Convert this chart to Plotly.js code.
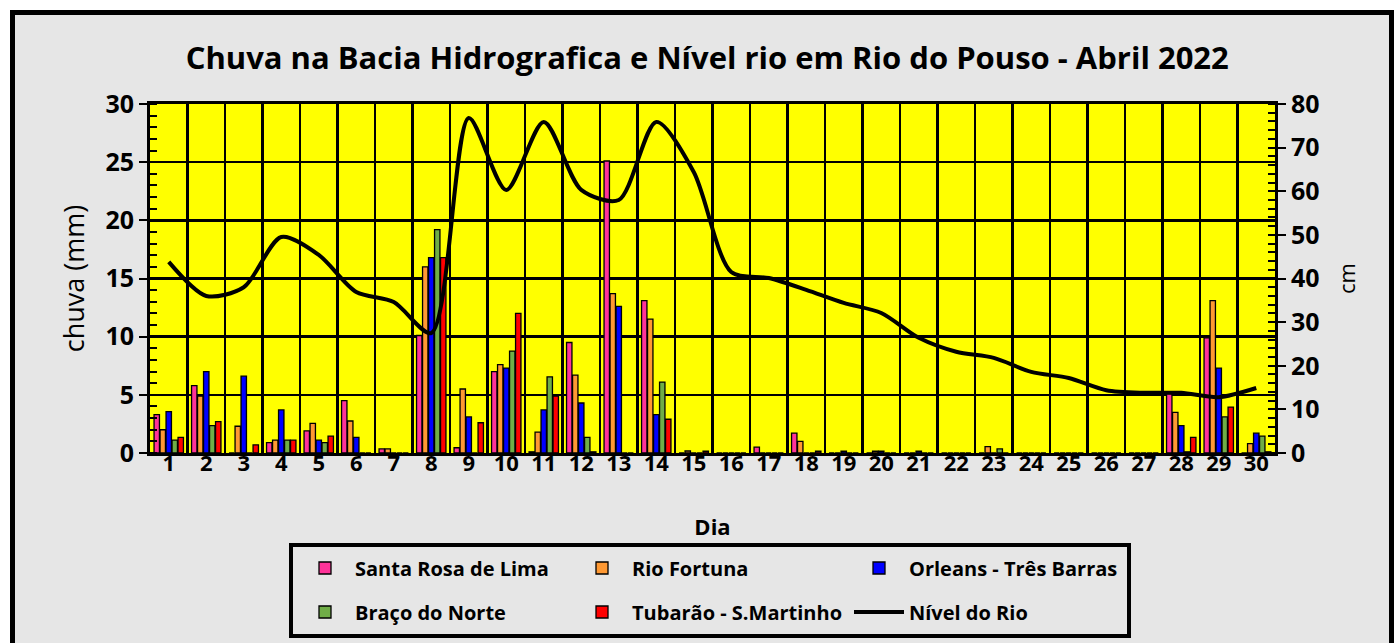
<!DOCTYPE html>
<html><head><meta charset="utf-8">
<script src="https://cdn.plot.ly/plotly-3.0.1.min.js"></script>
<style>
html,body{margin:0;padding:0;background:#fff;overflow:hidden;}
#frame{position:absolute;left:10px;top:10px;width:1374px;height:660px;border:5px solid #000;background:#e6e6e6;}
#legbox{position:absolute;left:289px;top:543px;width:834px;height:87px;border:4px solid #000;}
#chart{position:absolute;left:0;top:0;width:1395px;height:643px;}
</style></head>
<body>
<div id="frame"></div>
<div id="legbox"></div>
<div id="chart"></div>
<script>
const days = [1,2,3,4,5,6,7,8,9,10,11,12,13,14,15,16,17,18,19,20,21,22,23,24,25,26,27,28,29,30];
const santaRosa = [3.3,5.8,0,0.9,1.9,4.5,0.35,10.1,0.45,7.0,0.1,9.5,25.1,13.1,0,0,0.5,1.7,0,0,0,0,0,0,0,0,0,5.1,9.9,0];
const rioFortuna = [2.0,4.9,2.3,1.1,2.55,2.75,0.35,16.0,5.5,7.6,1.8,6.7,13.7,11.5,0.17,0,0,1.0,0,0.15,0,0,0.55,0,0,0,0,3.5,13.1,0.8];
const orleans = [3.55,7.0,6.6,3.7,1.1,1.35,0,16.8,3.1,7.3,3.7,4.3,12.6,3.3,0,0,0,0,0.15,0.15,0.15,0,0,0,0,0,0,2.35,7.3,1.7];
const braco = [1.1,2.35,0,1.1,0.9,0,0,19.2,0,8.75,6.55,1.35,0,6.1,0,0,0,0,0,0,0,0,0.35,0,0,0,0,0.1,3.1,1.45];
const tubarao = [1.35,2.7,0.7,1.1,1.45,0,0,16.8,2.6,12.0,4.9,0.1,0,2.9,0.15,0,0,0.15,0,0,0,0,0,0,0,0,0,1.35,3.95,0.1];
const nivel = [43.8,36,38,49.5,45.4,36.9,34.6,27.5,76.8,60.3,75.9,60.3,58,75.9,64.4,41.5,40.1,37.4,34.4,32.1,26.4,23.2,21.8,18.6,17.2,14.4,13.8,13.8,12.8,14.9];

const seriesNames = ['Santa Rosa de Lima','Rio Fortuna','Orleans - Três Barras','Braço do Norte','Tubarão - S.Martinho'];
const seriesData = [santaRosa, rioFortuna, orleans, braco, tubarao];
const colors = ['#FF3399','#FF9933','#0000FF','#70AD47','#FF0000'];
const legendOf = ['legend','legend','legend','legend2','legend2'];

const FONT = '"Open Sans", "Noto Sans", sans-serif';
const traces = seriesData.map((vals,i)=>({
  type:'bar', x:days, y:vals, name:seriesNames[i], legend:legendOf[i],
  marker:{color:colors[i], line:{color:'#000', width:1.3}},
  hoverinfo:'x+y'
}));
traces.push({
  type:'scatter', mode:'lines', x:days, y:nivel, name:'Nível do Rio', yaxis:'y2', legend:'legend2',
  line:{color:'#000', width:4, shape:'spline', smoothing:0.8}
});

const legCommon = {
  orientation:'h', xref:'container', yref:'container', x:295/1395, xanchor:'left', yanchor:'middle',
  bgcolor:'rgba(0,0,0,0)', borderwidth:0,
  font:{size:20, family:FONT, weight:'bold'},
  entrywidth:212, entrywidthmode:'pixels', traceorder:'normal', itemwidth:50
};

const layout = {
  width:1395, height:643,
  paper_bgcolor:'rgba(0,0,0,0)', plot_bgcolor:'#FFFF00',
  margin:{l:150, r:120, t:104, b:190, autoexpand:false},
  font:{family:FONT, color:'#000'},
  title:{text:'<b>Chuva na Bacia Hidrografica e Nível rio em Rio do Pouso - Abril 2022</b>', font:{size:31, family:FONT}, x:0.507, xanchor:'center', y:0.91, yanchor:'middle'},
  barmode:'group', bargap:0.2, bargroupgap:0.1,
  xaxis:{
    range:[0.5,30.5], tickmode:'array', tickvals:days, ticktext:days.map(String),
    showgrid:false, showline:true, linecolor:'#000', linewidth:3, mirror:true,
    ticks:'', tickfont:{size:22, family:FONT, weight:'bold'}, ticklabelstandoff:-11,
    minor:{tick0:0.5, dtick:1, showgrid:true, gridcolor:'#000', gridwidth:2.5},
    title:{text:'<b>Dia</b>', font:{size:22, family:FONT}, standoff:44},
    zeroline:false, automargin:false
  },
  yaxis:{
    range:[0,30], dtick:5, showgrid:true, gridcolor:'#000', gridwidth:2.5,
    showline:true, linecolor:'#000', linewidth:3, ticks:'outside', ticklen:8, tickwidth:2, tickcolor:'#000',
    minor:{dtick:1, ticks:'inside', ticklen:7, tickwidth:2, tickcolor:'#000', showgrid:false},
    tickfont:{size:25, family:FONT, weight:'bold'},
    title:{text:'chuva (mm)', font:{size:27, family:FONT}, standoff:13},
    zeroline:false, automargin:false
  },
  yaxis2:{
    overlaying:'y', side:'right', range:[0,80], dtick:10, showgrid:false,
    showline:true, linecolor:'#000', linewidth:3, ticks:'outside', ticklen:8, tickwidth:2, tickcolor:'#000',
    minor:{dtick:2, ticks:'inside', ticklen:7, tickwidth:2, tickcolor:'#000'},
    tickfont:{size:25, family:FONT, weight:'bold'},
    title:{text:'cm', font:{size:22, family:FONT}, standoff:22},
    zeroline:false, automargin:false
  },
  legend:Object.assign({}, legCommon, {y:(643-568)/643}),
  legend2:Object.assign({}, legCommon, {y:(643-612)/643}),
  showlegend:true
};
Plotly.newPlot('chart', traces, layout, {displayModeBar:false, staticPlot:true});
</script>
</body></html>
